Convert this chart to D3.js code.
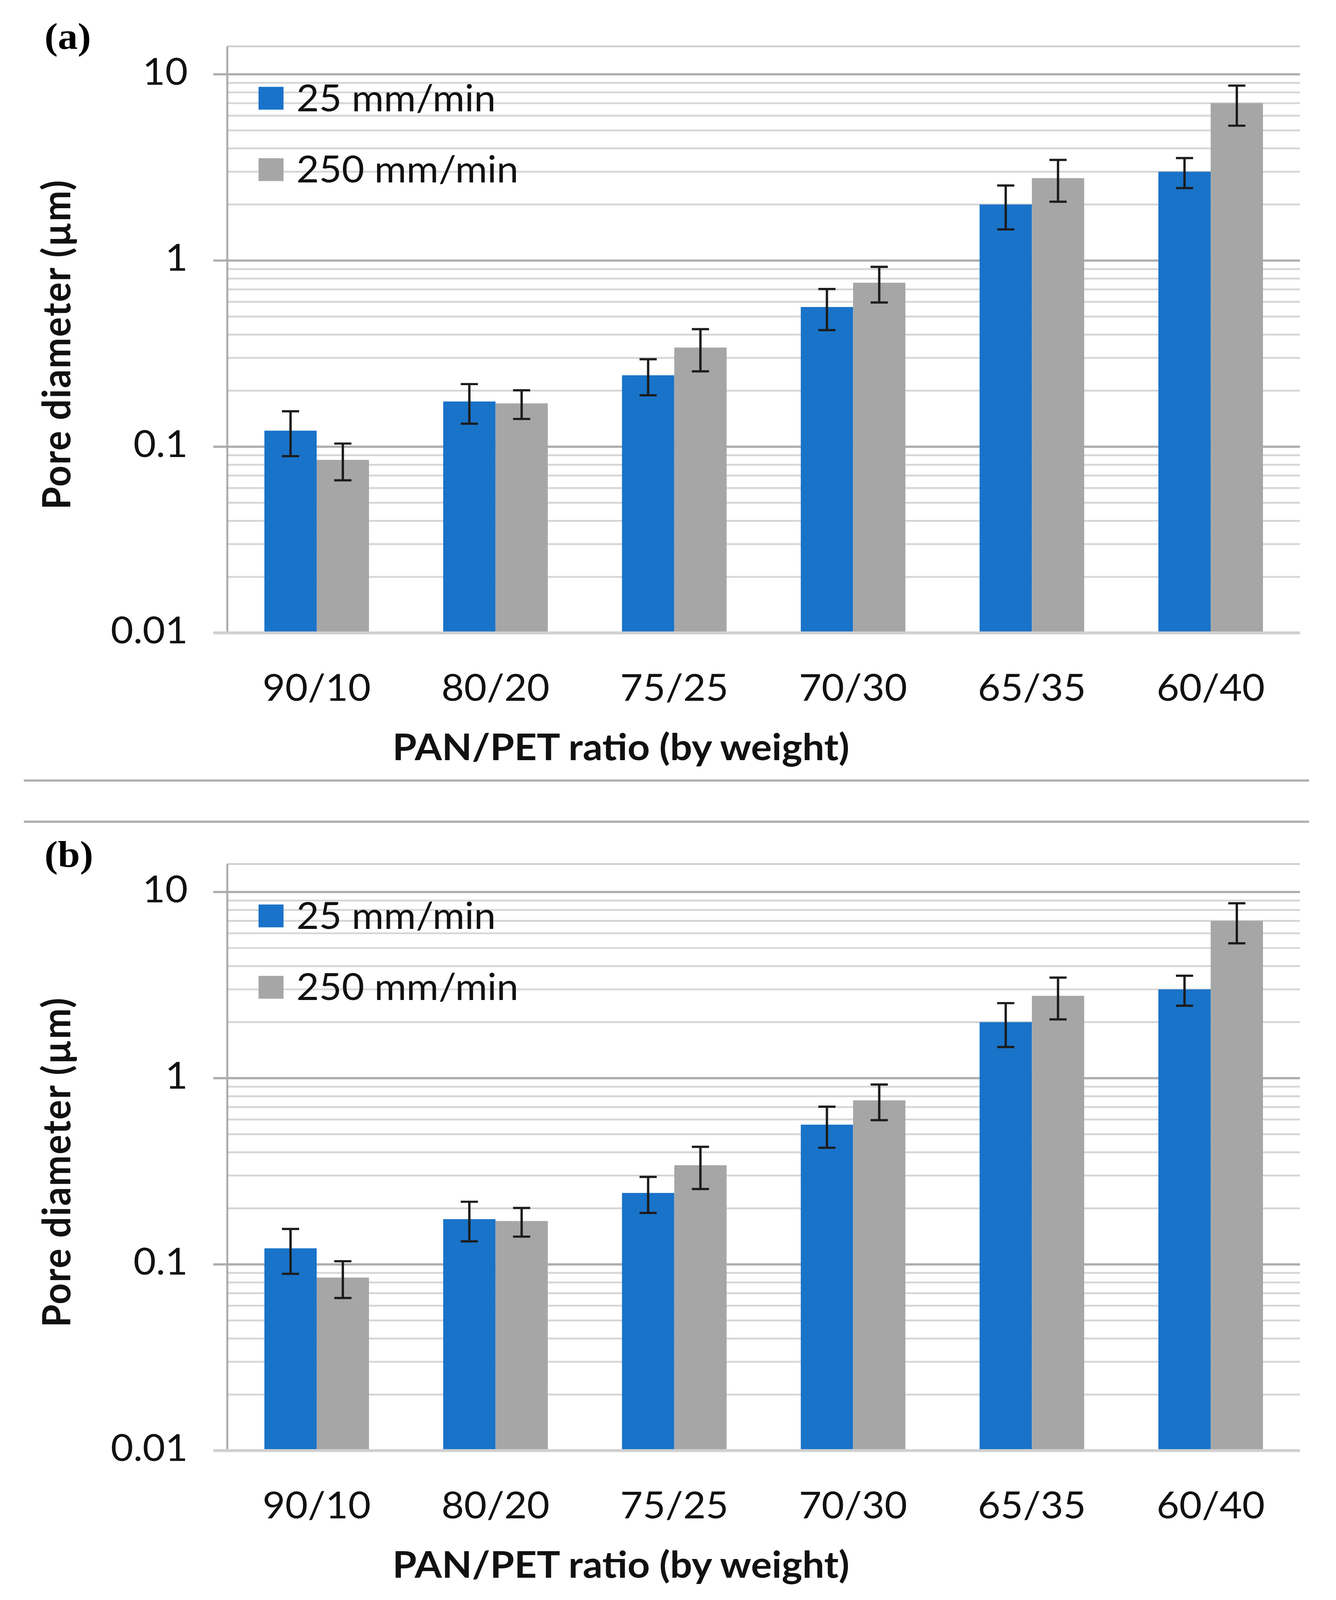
<!DOCTYPE html>
<html>
<head>
<meta charset="utf-8">
<script src="https://cdn.jsdelivr.net/npm/d3@7.9.0/dist/d3.min.js"></script>
<style>
  html, body { margin: 0; padding: 0; background: #ffffff; overflow: hidden; }
  svg { display: block; width: 100vw; height: 100vh; }
</style>
</head>
<body>
<svg id="chart"></svg>
<script>
// data (both panels show the same values)
const categories = ["90/10", "80/20", "75/25", "70/30", "65/35", "60/40"];
const seriesNames = ["25 mm/min", "250 mm/min"];
const slowMeans = [0.122, 0.175, 0.242, 0.563, 2.0, 3.0];
const slowErrors = [0.033, 0.042, 0.053, 0.14, 0.53, 0.55];
const fastMeans = [0.085, 0.171, 0.341, 0.76, 2.77, 7.0];
const fastErrors = [0.019, 0.03, 0.087, 0.165, 0.7, 1.7];
const yTickValues = [0.01, 0.1, 1, 10];
const panelLabels = ["(a)", "(b)"];

const W = 3421, H = 4348;
const colors = { "25 mm/min": "#1973c9", "250 mm/min": "#a6a6a6" };
const FONT = "Lato, 'Open Sans', sans-serif";

// drawing is laid out in a 3421 x 4348 frame and stretched to whatever the window gives us
const svg = d3.select("#chart")
    .attr("viewBox", `0 0 ${W} ${H}`)
    .attr("preserveAspectRatio", "none");
svg.append("rect").attr("width", W).attr("height", H).attr("fill", "#ffffff");

// plot area of panel (a); panel (b) is shifted down
const plot = { left: 582, right: 3329, top: 126, bottom: 1720, ytop: 202 };
const panelOffset = 2222;

const x = d3.scaleBand().domain(categories).range([plot.left, plot.right]);
const groupW = x.bandwidth() * 0.585;
const xs = d3.scaleBand().domain(seriesNames).range([0, groupW]);
const y = d3.scaleLog().domain([0.01, 10]).range([plot.bottom, plot.ytop]);

const rows = categories.map((c, i) => ({
    cat: c,
    values: [
        { name: seriesNames[0], v: slowMeans[i], e: slowErrors[i] },
        { name: seriesNames[1], v: fastMeans[i], e: fastErrors[i] }
    ]
}));

function drawPanel(g, label) {
    // minor gridlines (2..9 in each decade)
    const minor = y.ticks().filter(t => !yTickValues.some(d => Math.abs(d - t) / d < 1e-6));
    g.selectAll(".minor").data(minor).enter().append("line")
        .attr("x1", plot.left).attr("x2", plot.right)
        .attr("y1", d => y(d)).attr("y2", d => y(d))
        .attr("stroke", "#d6d6d6").attr("stroke-width", 5);

    // top border of the plot area
    g.append("line")
        .attr("x1", plot.left).attr("x2", plot.right)
        .attr("y1", plot.top).attr("y2", plot.top)
        .attr("stroke", "#d0d0d0").attr("stroke-width", 5);

    // major gridlines, with the little tick sticking out on the left
    g.selectAll(".major").data(yTickValues.slice(1)).enter().append("line")
        .attr("x1", plot.left - 36).attr("x2", plot.right)
        .attr("y1", d => y(d)).attr("y2", d => y(d))
        .attr("stroke", "#adadad").attr("stroke-width", 6);

    // left axis
    g.append("line")
        .attr("x1", plot.left).attr("x2", plot.left)
        .attr("y1", plot.top).attr("y2", plot.bottom)
        .attr("stroke", "#ababab").attr("stroke-width", 5);

    // bars
    const groups = g.selectAll(".grp").data(rows).enter().append("g")
        .attr("transform", d => `translate(${x(d.cat) + (x.bandwidth() - groupW) / 2},0)`);

    groups.selectAll("rect").data(d => d.values).enter().append("rect")
        .attr("x", d => xs(d.name))
        .attr("width", xs.bandwidth())
        .attr("y", d => y(d.v))
        .attr("height", d => y(0.01) - y(d.v))
        .attr("fill", d => colors[d.name]);

    // error bars
    const eb = groups.selectAll(".err").data(d => d.values).enter().append("g")
        .attr("transform", d => `translate(${xs(d.name) + xs.bandwidth() / 2},0)`)
        .attr("stroke", "#1c1c1c").attr("stroke-width", 6);
    eb.append("line").attr("x1", 0).attr("x2", 0)
        .attr("y1", d => y(d.v + d.e)).attr("y2", d => y(d.v - d.e));
    eb.append("line").attr("x1", -22).attr("x2", 22)
        .attr("y1", d => y(d.v + d.e)).attr("y2", d => y(d.v + d.e));
    eb.append("line").attr("x1", -22).attr("x2", 22)
        .attr("y1", d => y(d.v - d.e)).attr("y2", d => y(d.v - d.e));

    // bottom axis line (0.01)
    g.append("line")
        .attr("x1", plot.left - 36).attr("x2", plot.right)
        .attr("y1", plot.bottom).attr("y2", plot.bottom)
        .attr("stroke", "#d0d0d0").attr("stroke-width", 8);

    // y tick labels
    g.selectAll(".ytick").data(yTickValues).enter().append("text")
        .attr("x", 481).attr("y", d => y(d) + 28)
        .attr("text-anchor", "end")
        .attr("font-family", FONT).attr("font-size", 100).attr("fill", "#111")
        .text(d => d >= 1 ? d3.format("d")(d) : String(d));

    // category labels
    g.selectAll(".xtick").data(categories).enter().append("text")
        .attr("x", d => x(d) + x.bandwidth() / 2).attr("y", 1904)
        .attr("text-anchor", "middle")
        .attr("font-family", FONT).attr("font-size", 100).attr("fill", "#111")
        .text(d => d);

    // axis titles
    g.append("text")
        .attr("x", 1590).attr("y", 2066)
        .attr("text-anchor", "middle")
        .attr("font-family", FONT).attr("font-weight", "bold").attr("font-size", 100).attr("fill", "#111")
        .text("PAN/PET ratio (by weight)");

    g.append("text")
        .attr("transform", "translate(180,936) rotate(-90)")
        .attr("text-anchor", "middle")
        .attr("font-family", FONT).attr("font-weight", "bold").attr("font-size", 100)
        .attr("letter-spacing", 2.5).attr("fill", "#111")
        .text("Pore diameter (\u00b5m)");

    // legend
    const leg = g.selectAll(".leg").data(seriesNames).enter().append("g")
        .attr("transform", (d, i) => `translate(662,${236 + i * 194})`);
    leg.append("rect").attr("width", 64).attr("height", 62).attr("fill", d => colors[d]);
    leg.append("text")
        .attr("x", 97).attr("y", 66)
        .attr("font-family", FONT).attr("font-size", 100).attr("fill", "#111")
        .text(d => d);

    // panel label
    g.append("text")
        .attr("x", 114).attr("y", 133)
        .attr("font-family", "'Liberation Serif', 'Times New Roman', serif")
        .attr("font-weight", "bold").attr("font-size", 102).attr("fill", "#000")
        .text(label);
}

panelLabels.forEach((label, i) => {
    const g = svg.append("g").attr("transform", `translate(0,${i * panelOffset})`);
    drawPanel(g, label);
});

// separator lines between the two panels
svg.selectAll(".sep").data([2121, 2233]).enter().append("line")
    .attr("x1", 61).attr("x2", 3352)
    .attr("y1", d => d).attr("y2", d => d)
    .attr("stroke", "#b0b0b0").attr("stroke-width", 6);
</script>
</body>
</html>
